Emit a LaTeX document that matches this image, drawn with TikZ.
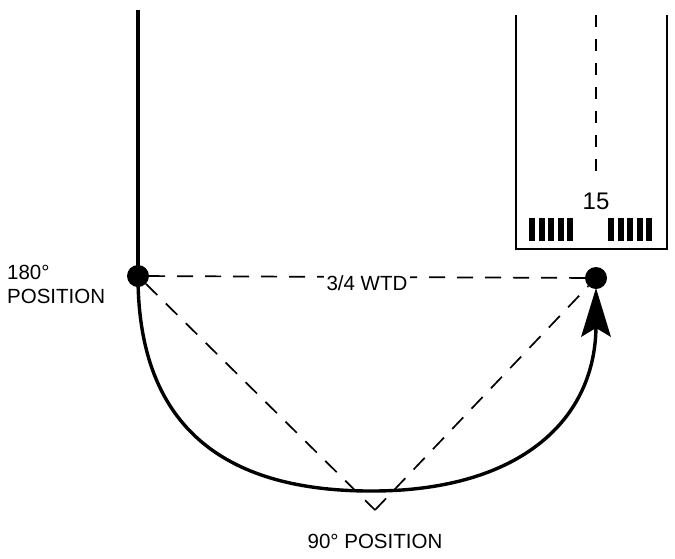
\documentclass[tikz,border=0pt]{standalone}
\usepackage{fontspec}
\setmainfont{Liberation Sans}
\begin{document}
\begin{tikzpicture}[x=1pt,y=-1pt,
  lbl/.style={font=\fontsize{20.5}{24}\selectfont, inner sep=0pt},
  dsh/.style={line width=1.7pt, dash pattern=on 16pt off 12pt},
  thick line/.style={line width=3.4pt},
  bar/.style={fill=black}]
\useasboundingbox (0,0) rectangle (675,558);
\coordinate (top) at (138,10);
\node[circle,fill=black,minimum size=22pt,inner sep=0pt] (L) at (138,276) {};
\node[circle,fill=black,minimum size=22pt,inner sep=0pt] (R) at (596,278) {};
\coordinate (B) at (375,510);
\coordinate (tip) at (596,288);
% left vertical line
\draw[thick line] (top) -- (L.center);
% curved path
\draw[thick line] (L.center) .. controls (138,440) and (240,492) .. (375,491)
  .. controls (520,490) and (596,420) .. (596,325);
\fill (tip) -- (611,337) -- (596,328) -- (581,337) -- cycle;
% dashed triangle
\draw[dsh] (L) -- (R);
\draw[dsh] (L) -- (B);
\draw[dsh] (B) -- (R);
% runway
\draw[line width=2pt] (516,15) -- (516,249) -- (667,249) -- (667,15);
\draw[line width=2pt, dash pattern=on 12pt off 12pt] (596,15) -- (596,180);
\node[lbl,font=\fontsize{24}{26}\selectfont] (num) at (596,201) {15};
\foreach \x in {529,538.5,548,557.5,567} \fill (\x,218) rectangle ++(6,23);
\foreach \x in {608,617.5,627,636.5,646} \fill (\x,218) rectangle ++(6,23);
% labels
\node[lbl,fill=white,inner sep=3pt] (w) at (367,283) {3/4 WTD};
\node[lbl,align=left,anchor=west] (p180) at (7,284) {180\textdegree\\POSITION};
\node[lbl] (p90) at (375,541) {90\textdegree{} POSITION};
\end{tikzpicture}
\end{document}
